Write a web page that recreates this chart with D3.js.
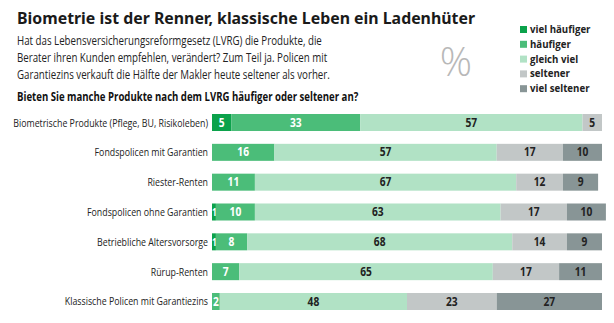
<!DOCTYPE html>
<html>
<head>
<meta charset="utf-8">
<script src="https://cdn.jsdelivr.net/npm/d3@7"></script>
<style>
  body { margin: 0; background: #fff; }
  svg text { font-family: "Open Sans", sans-serif; }
</style>
</head>
<body>
<script>
// data
let categories = [
    'Biometrische Produkte (Pflege, BU, Risikoleben)',
    'Fondspolicen mit Garantien',
    'Riester-Renten',
    'Fondspolicen ohne Garantien',
    'Betriebliche Altersvorsorge',
    'Rürup-Renten',
    'Klassische Policen mit Garantiezins'
];
let seriesNames = ['viel häufiger', 'häufiger', 'gleich viel', 'seltener', 'viel seltener'];
let vielHaeufiger = [5, 0, 0, 1, 1, 0, 0];
let haeufiger     = [33, 16, 11, 10, 8, 7, 2];
let gleichViel    = [57, 57, 67, 63, 68, 65, 48];
let seltener      = [5, 17, 12, 17, 14, 17, 23];
let vielSeltener  = [0, 10, 9, 10, 9, 11, 27];

let title = 'Biometrie ist der Renner, klassische Leben ein Ladenhüter';
let intro = [
    'Hat das Lebensversicherungsreformgesetz (LVRG) die Produkte, die',
    'Berater ihren Kunden empfehlen, verändert? Zum Teil ja. Policen mit',
    'Garantiezins verkauft die Hälfte der Makler heute seltener als vorher.'
];
let question = 'Bieten Sie manche Produkte nach dem LVRG häufiger oder seltener an?';

let colors = ['#0ba24b', '#4bbd79', '#b1e2c5', '#c2c7c7', '#889596'];
let labelColors = ['#fff', '#fff', '#222', '#222', '#222'];

let width = 614, height = 323,
    margins = {top: 114, right: 12, left: 212, bottom: 13};

// squeeze a text horizontally, the original uses a condensed face
function condense(sel, f){
    sel.each(function(){
        let w = this.getComputedTextLength();
        d3.select(this)
            .attr('textLength', w * f)
            .attr('lengthAdjust', 'spacingAndGlyphs');
    });
    return sel;
}

let svg = d3.select('body').append('svg')
    .attr('width', width)
    .attr('height', height);

// header
svg.append('text')
    .attr('x', 17).attr('y', 24)
    .style('font-family', '"Noto Sans", sans-serif')
    .style('font-weight', 'bold')
    .style('font-size', '16px')
    .attr('fill', '#1a1a1a')
    .attr('textLength', 458)
    .attr('lengthAdjust', 'spacingAndGlyphs')
    .text(title);

svg.selectAll('text.intro')
    .data(intro)
    .enter().append('text')
    .classed('intro', true)
    .attr('x', 17)
    .attr('y', (d, i) => 45 + i * 17)
    .style('font-size', '12px')
    .attr('fill', '#222')
    .text(d => d)
    .call(condense, 0.81);

svg.append('text')
    .attr('x', 17).attr('y', 101)
    .style('font-size', '12px')
    .style('font-weight', 'bold')
    .attr('fill', '#111')
    .text(question)
    .call(condense, 0.8);

svg.append('text')
    .attr('x', 456).attr('y', 76)
    .attr('text-anchor', 'middle')
    .style('font-weight', '300')
    .style('font-size', '40px')
    .attr('fill', '#b8b8b8')
    .text('%');

// legend
let legend = svg.selectAll('g.legend')
    .data(seriesNames)
    .enter().append('g')
    .classed('legend', true)
    .attr('transform', (d, i) => `translate(520,${26 + i * 14.8})`);
legend.append('rect')
    .attr('width', 7).attr('height', 7)
    .attr('fill', (d, i) => colors[i]);
legend.append('text')
    .attr('x', 10).attr('y', 7)
    .style('font-size', '11px')
    .style('font-weight', 'bold')
    .attr('fill', '#222')
    .text(d => d)
    .call(condense, 0.88);

// stacked bars
let rows = categories.map((c, i) => {
    return {cat: c, values: [vielHaeufiger[i], haeufiger[i], gleichViel[i], seltener[i], vielSeltener[i]]};
});

let xScale = d3.scaleLinear()
    .domain([0, 100])
    .range([margins.left, width - margins.right]);
let yScale = d3.scaleBand()
    .domain(categories)
    .range([margins.top, height - margins.bottom])
    .paddingInner(0.43)
    .paddingOuter(0);

let chart = svg.append('g').classed('chart', true);

let rowG = chart.selectAll('g.row')
    .data(rows)
    .enter().append('g')
    .classed('row', true)
    .attr('transform', d => `translate(0,${yScale(d.cat)})`);

rowG.append('text')
    .attr('x', margins.left - 4)
    .attr('y', yScale.bandwidth() / 2 + 4)
    .attr('text-anchor', 'end')
    .style('font-size', '11px')
    .attr('fill', '#222')
    .text(d => d.cat)
    .call(condense, 0.8);

let segs = rowG.selectAll('g.seg')
    .data(d => {
        let acc = 0;
        return d.values.map((v, k) => {
            let s = {k: k, v: v, x0: acc, x1: acc + v};
            acc += v;
            return s;
        }).filter(s => s.v > 0);
    })
    .enter().append('g')
    .classed('seg', true);

segs.append('rect')
    .attr('x', d => xScale(d.x0))
    .attr('width', d => xScale(d.x1) - xScale(d.x0))
    .attr('height', yScale.bandwidth())
    .attr('fill', d => colors[d.k]);

segs.append('text')
    .attr('x', d => d.v < 2 ? xScale(d.x0) : (xScale(d.x0) + xScale(d.x1)) / 2)
    .attr('y', yScale.bandwidth() / 2 + 4)
    .attr('text-anchor', d => d.v < 2 ? 'start' : 'middle')
    .style('font-size', d => d.v < 2 ? '10px' : '12px')
    .style('font-weight', 'bold')
    .attr('fill', d => labelColors[d.k])
    .text(d => d.v)
    .call(condense, 0.85);
</script>
</body>
</html>
